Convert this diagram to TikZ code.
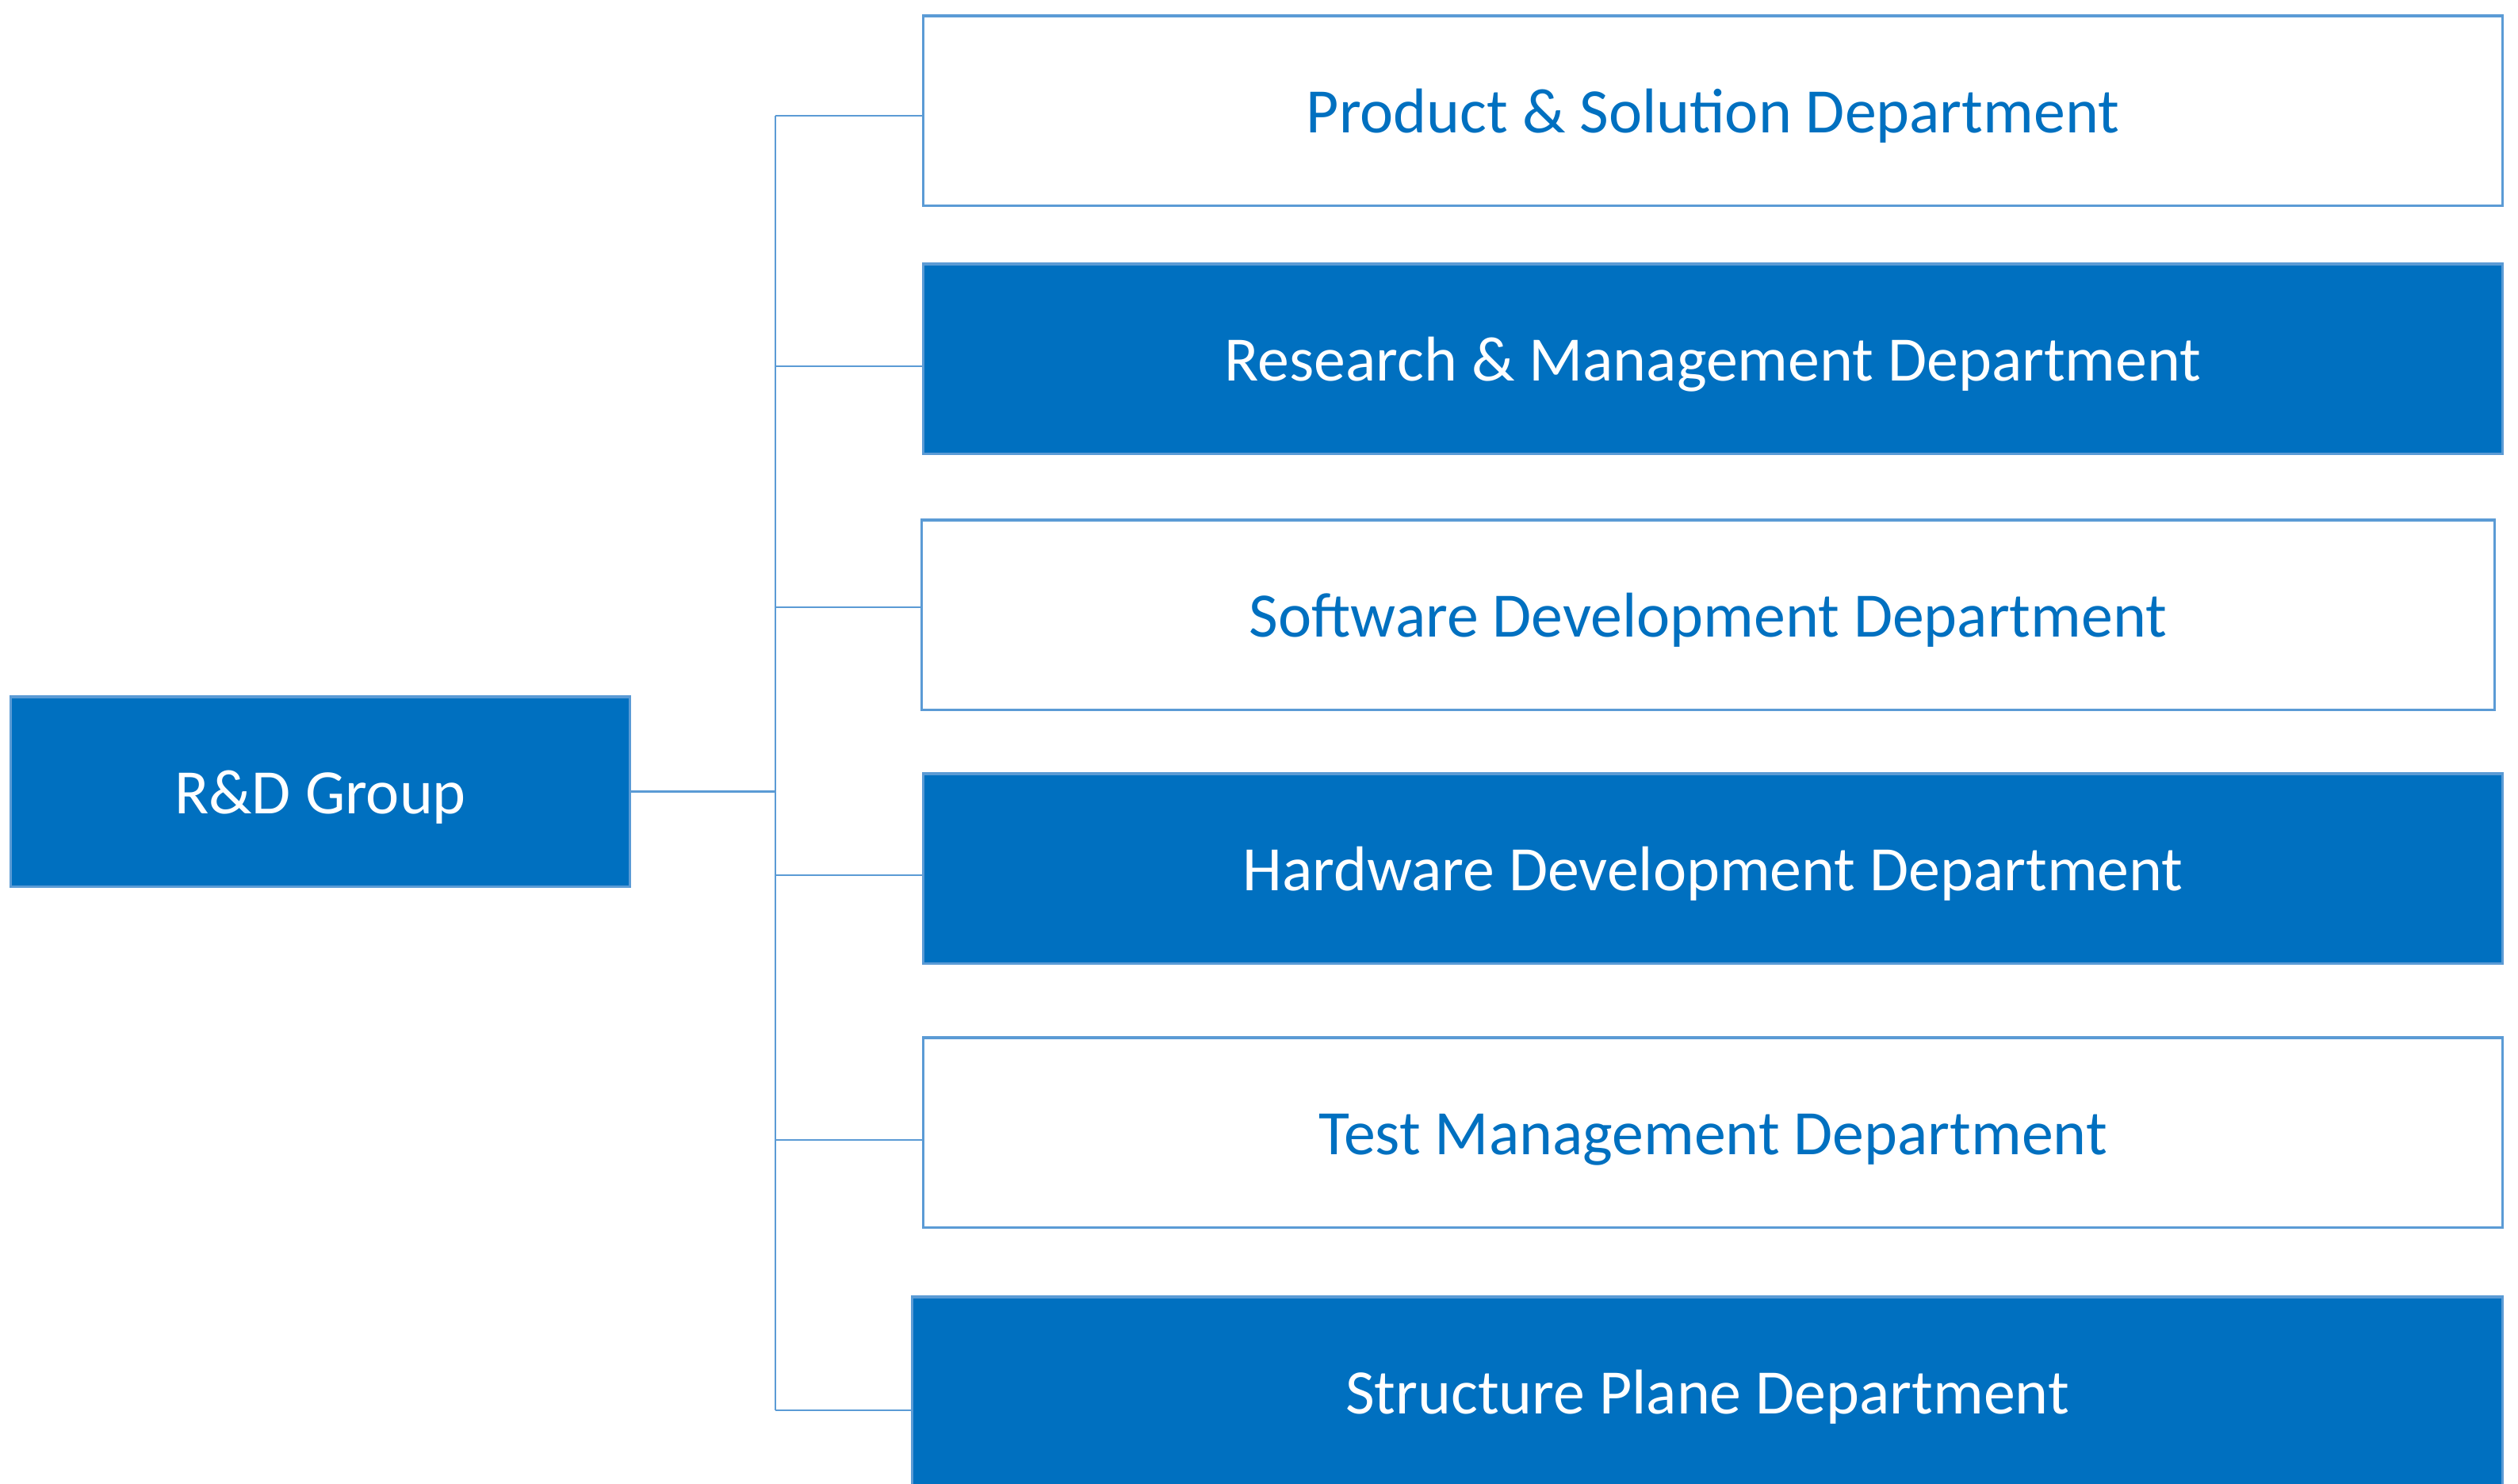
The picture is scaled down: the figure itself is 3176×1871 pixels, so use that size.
\documentclass[tikz,border=0pt]{standalone}
\usepackage{fontspec}
\setmainfont{Carlito}
\definecolor{deptblue}{HTML}{0070C0}
\definecolor{lineblue}{HTML}{5B9BD5}
\tikzset{
  deptfill/.style={rectangle, draw=lineblue, line width=0.9pt, fill=deptblue, text=white,
    minimum width=19.91cm, minimum height=2.39cm, inner sep=0pt,
    text height=0.62cm, text depth=0.06cm,
    font=\fontsize{22.7}{27}\selectfont},
  deptopen/.style={deptfill, fill=white, text=deptblue},
  branch/.style={draw=lineblue, line width=0.6pt}
}
\begin{document}
\begin{tikzpicture}[x=0.01cm, y=-0.01cm]

% 画布范围
\useasboundingbox (0,0) rectangle (3176,1871);

% 左侧总部门
\node[deptfill, minimum width=7.80cm] (grp) at (404,998.5) {R\&D Group};

% 右侧六个部门
\node[deptopen] (prod) at (2160.5,139.5) {Product \& Solution Department};
\node[deptfill] (res)  at (2160.5,452.5) {Research \& Management Department};
\node[deptopen, minimum width=19.83cm] (soft) at (2154.5,775.5) {Software Development Department};
\node[deptfill] (hard) at (2160.5,1095.5) {Hardware Development Department};
\node[deptopen] (test) at (2160.5,1428.5) {Test Management Department};
\node[deptfill, minimum width=20.05cm] (struc) at (2153.5,1755.5) {Structure Plane Department};

% 竖直主干线
\coordinate (trunk) at (978,0);
\draw[branch] ([yshift=-0.065cm]trunk |- prod.west) -- ([yshift=-0.235cm]trunk |- struc.west);

% 总部门连到主干
\draw[branch] (grp.east) -- (trunk |- grp.east);

% 主干连到各部门(连线略偏离方框中线)
\foreach \d/\off in {prod/-0.065, res/-0.095, soft/0.095, hard/-0.085, test/-0.095, struc/-0.235}
  \draw[branch] ([yshift=\off cm]trunk |- \d.west) -- ([yshift=\off cm]\d.west);

\end{tikzpicture}
\end{document}
